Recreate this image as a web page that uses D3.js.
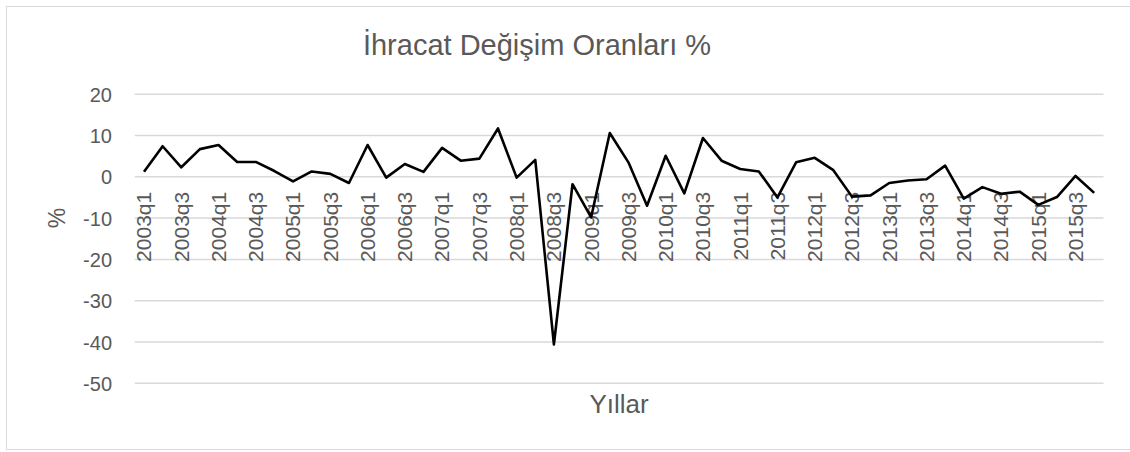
<!DOCTYPE html>
<html lang="tr">
<head>
<meta charset="utf-8">
<title>İhracat Değişim Oranları</title>
<script src="https://cdn.jsdelivr.net/npm/d3@7"></script>
<style>
  body { margin: 0; background: #fff; }
  svg text { font-family: "Liberation Sans", Arial, sans-serif; fill: #595959; }
</style>
</head>
<body>
<svg id="chart" width="1130" height="452"></svg>
<script>
// quarters shown on the category axis
var categories = [
  "2003q1","2003q2","2003q3","2003q4","2004q1","2004q2","2004q3","2004q4",
  "2005q1","2005q2","2005q3","2005q4","2006q1","2006q2","2006q3","2006q4",
  "2007q1","2007q2","2007q3","2007q4","2008q1","2008q2","2008q3","2008q4",
  "2009q1","2009q2","2009q3","2009q4","2010q1","2010q2","2010q3","2010q4",
  "2011q1","2011q2","2011q3","2011q4","2012q1","2012q2","2012q3","2012q4",
  "2013q1","2013q2","2013q3","2013q4","2014q1","2014q2","2014q3","2014q4",
  "2015q1","2015q2","2015q3","2015q4"
];

// export change rate, %
var exportChange = [
  1.2, 7.4, 2.3, 6.7, 7.7, 3.6, 3.6, 1.4,
  -1.1, 1.3, 0.7, -1.5, 7.7, -0.2, 3.1, 1.2,
  7.0, 3.9, 4.4, 11.7, -0.2, 4.1, -40.6, -1.8,
  -9.8, 10.6, 3.5, -7.0, 5.1, -4.0, 9.4, 3.9,
  1.9, 1.3, -5.0, 3.5, 4.6, 1.6, -4.8, -4.5,
  -1.5, -0.9, -0.6, 2.7, -5.3, -2.5, -4.1, -3.6,
  -6.8, -4.9, 0.2, -3.9
];

var yTicks = [-50, -40, -30, -20, -10, 0, 10, 20];

var svg = d3.select("#chart");

// chart area border
svg.append("rect")
  .attr("x", 6.5).attr("y", 6.5)
  .attr("width", 1140).attr("height", 443)
  .attr("fill", "none")
  .attr("stroke", "#d9d9d9")
  .attr("stroke-width", 1);

var x = d3.scaleBand().domain(categories).range([134.7, 1103.5]);
var y = d3.scaleLinear().domain([-50, 20]).range([383.3, 94.2]);

// gridlines
svg.append("g").selectAll("line")
  .data(yTicks).enter().append("line")
  .attr("x1", x.range()[0]).attr("x2", x.range()[1])
  .attr("y1", function(d){ return y(d); })
  .attr("y2", function(d){ return y(d); })
  .attr("stroke", "#d9d9d9")
  .attr("stroke-width", 1.5);

// y axis labels (plain hyphen like the original, not the unicode minus)
var yAxis = d3.axisLeft(y).tickValues(yTicks).tickSize(0).tickPadding(0)
  .tickFormat(function(d){ return String(d); });
var gy = svg.append("g").attr("transform", "translate(112,0)").call(yAxis);
gy.select(".domain").remove();
gy.selectAll("text")
  .style("font-size", "20px")
  .style("font-family", null)
  .attr("fill", "#595959")
  .attr("dy", "0.35em");

// category labels, every second quarter, hanging from the zero line
var xLabels = categories.filter(function(d, i){ return i % 2 === 0; });
svg.append("g").selectAll("text")
  .data(xLabels).enter().append("text")
  .attr("transform", function(d){
    return "translate(" + (x(d) + x.bandwidth() / 2) + "," + (y(0) + 15) + ") rotate(-90)";
  })
  .attr("text-anchor", "end")
  .attr("dy", "0.35em")
  .style("font-size", "21px")
  .text(function(d){ return d; });

// the series
var line = d3.line()
  .x(function(d, i){ return x(categories[i]) + x.bandwidth() / 2; })
  .y(function(d){ return y(d); });

svg.append("path")
  .datum(exportChange)
  .attr("d", line)
  .attr("fill", "none")
  .attr("stroke", "#000")
  .attr("stroke-width", 2.6)
  .attr("stroke-linejoin", "round");

// titles
svg.append("text")
  .attr("x", 537).attr("y", 55)
  .attr("text-anchor", "middle")
  .style("font-size", "29px")
  .text("İhracat Değişim Oranları %");

svg.append("text")
  .attr("x", 619).attr("y", 413)
  .attr("text-anchor", "middle")
  .style("font-size", "26px")
  .text("Yıllar");

svg.append("text")
  .attr("transform", "translate(57,218) rotate(-90)")
  .attr("text-anchor", "middle")
  .attr("dy", "0.35em")
  .style("font-size", "23px")
  .text("%");
</script>
</body>
</html>
